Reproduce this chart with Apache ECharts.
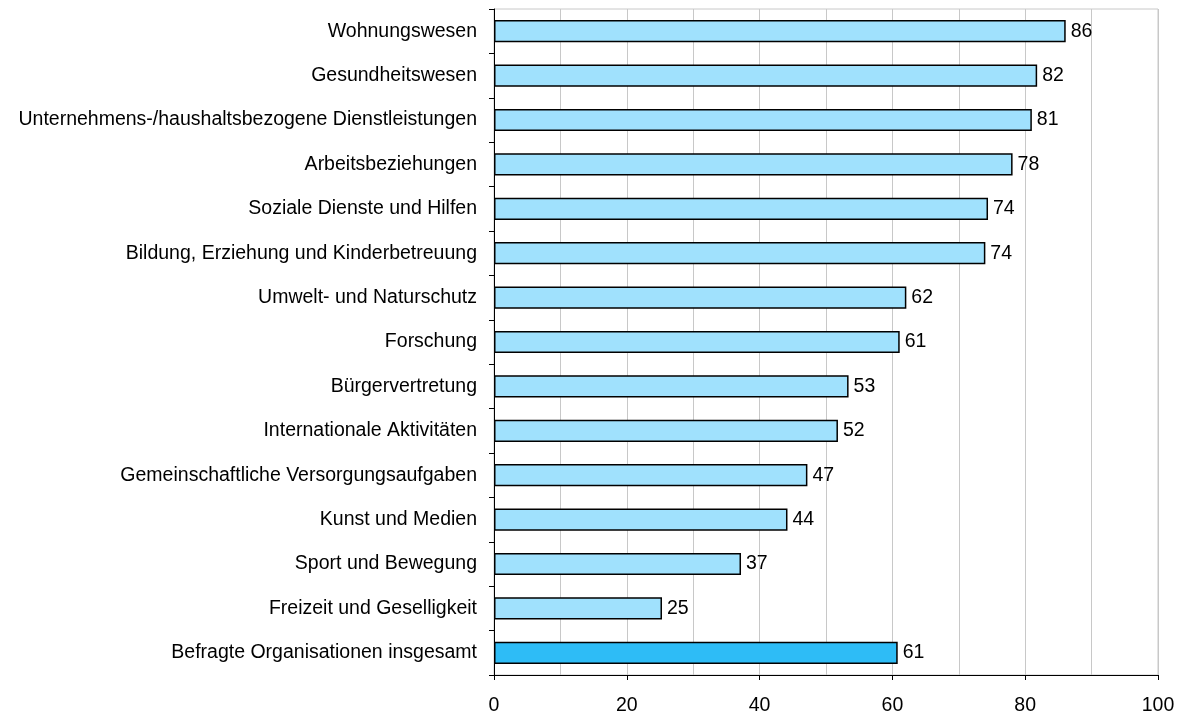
<!DOCTYPE html>
<html>
<head>
<meta charset="utf-8">
<title>Organisationen nach Bereichen</title>
<style>
  html, body { margin: 0; padding: 0; background: #fff; }
  #chart { width: 1181px; height: 713px; }
</style>
</head>
<body>
<div id="chart"></div>
<script src="https://cdn.jsdelivr.net/npm/echarts@6/dist/echarts.min.js"></script>
<script>
// Bereiche, von oben nach unten wie im Bild
var categories = [
  'Wohnungswesen',
  'Gesundheitswesen',
  'Unternehmens-/haushaltsbezogene Dienstleistungen',
  'Arbeitsbeziehungen',
  'Soziale Dienste und Hilfen',
  'Bildung, Erziehung und Kinderbetreuung',
  'Umwelt- und Naturschutz',
  'Forschung',
  'Bürgervertretung',
  'Internationale Aktivitäten',
  'Gemeinschaftliche Versorgungsaufgaben',
  'Kunst und Medien',
  'Sport und Bewegung',
  'Freizeit und Geselligkeit',
  'Befragte Organisationen insgesamt'
];
var values = [86.1, 81.8, 81.0, 78.1, 74.4, 74.0, 62.1, 61.1, 53.4, 51.8, 47.2, 44.2, 37.2, 25.3, 60.8];
var xTicks = [0, 20, 40, 60, 80, 100];

var barColor = '#a0e1fd';
var totalColor = '#2ebcf6';

var chart = echarts.init(document.getElementById('chart'));

// y-Achse von unten nach oben -> umdrehen
var cats = categories.slice().reverse();
var vals = values.slice().reverse();
var barData = vals.map(function (v, i) {
  var last = (i === 0); // "insgesamt" steht unten
  return { value: v, itemStyle: { color: last ? totalColor : barColor } };
});

var option = {
  animation: false,
  textStyle: { fontFamily: 'Liberation Sans, Arial, sans-serif' },
  grid: {
    left: 494, right: 23, top: 9, bottom: 38,
    outerBoundsMode: 'none',
    containLabel: false,
    show: true, borderColor: '#c8c8c8', borderWidth: 1
  },
  xAxis: {
    type: 'value',
    min: xTicks[0],
    max: xTicks[xTicks.length - 1],
    interval: 20,
    axisLine: { show: true, lineStyle: { color: '#000', width: 1 } },
    axisTick: { show: true, length: 5, lineStyle: { color: '#000' } },
    axisLabel: { color: '#000', fontSize: 19.5, margin: 21 },
    splitLine: { show: true, lineStyle: { color: '#c8c8c8', width: 1 } },
    minorTick: { show: false, splitNumber: 2 },
    minorSplitLine: { show: true, lineStyle: { color: '#c8c8c8', width: 1 } }
  },
  yAxis: {
    type: 'category',
    data: cats,
    axisLine: { show: true, lineStyle: { color: '#000', width: 1 } },
    axisTick: { show: true, length: 5, alignWithLabel: false, lineStyle: { color: '#000' } },
    axisLabel: { color: '#000', fontSize: 19.5, margin: 17 },
    splitLine: { show: false }
  },
  series: [{
    type: 'bar',
    data: barData,
    barWidth: '50%',
    itemStyle: { borderColor: '#000', borderWidth: 1.5 },
    label: {
      show: true,
      position: 'right',
      distance: 5,
      color: '#000',
      fontSize: 19.5,
      formatter: function (p) { return Math.round(p.value); }
    }
  }]
};

chart.setOption(option);
</script>
</body>
</html>
